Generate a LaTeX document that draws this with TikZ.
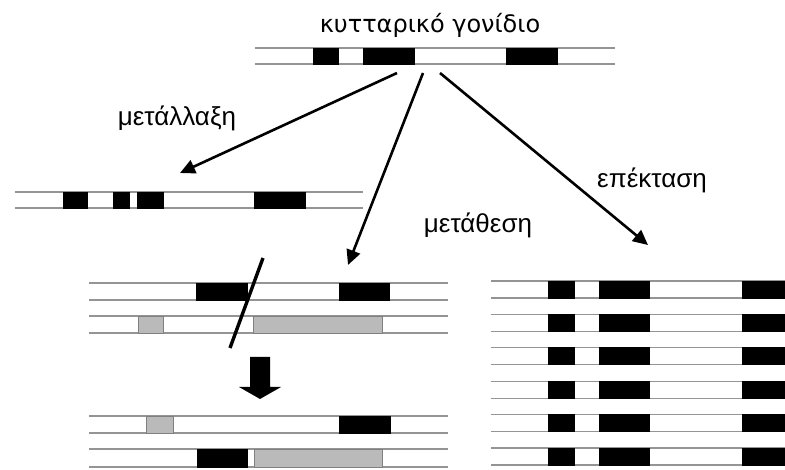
\documentclass[tikz,border=0pt]{standalone}
\usepackage{fontspec}
\setmainfont{DejaVu Sans}
\newfontfamily\labelfont{Liberation Sans}
\usetikzlibrary{arrows.meta}
% a double-stranded segment: x from #1 to #2, strands at y = #3 and #4
\newcommand\dnapair[4]{%
  \draw[strand] (#1,#3) -- (#2,#3);
  \draw[strand] (#1,#4) -- (#2,#4);}
% a block on a segment: x from #2 to #3, y from #4 to #5, style #1
\newcommand\block[5]{\path[#1] (#2,#4) rectangle (#3,#5);}
\begin{document}
\begin{tikzpicture}[x=1pt,y=-1pt,
  strand/.style={draw=black!42, line width=1.3pt},
  exon/.style={fill=black, draw=black, line width=0.6pt},
  shaded/.style={fill=black!27, draw=black!50, line width=0.8pt},
  branch/.style={line width=2.6pt, -{Triangle[length=15pt,width=14pt]}},
  caption/.style={font=\labelfont\fontsize{26}{30}\selectfont, inner sep=0pt},
  heading/.style={font=\fontsize{24}{28}\selectfont, inner sep=0pt},
]
\useasboundingbox (0,0) rectangle (785,470);
\fill[white] (0,0) rectangle (785,470);

% cellular gene
\node[heading] (title) at (430,25) {κυτταρικό γονίδιο};
\dnapair{255}{615}{48}{64}
\block{exon}{313}{338}{48}{64}
\block{exon}{363}{414}{48}{64}
\block{exon}{506}{557}{48}{64}

% mutation
\dnapair{15}{363}{192}{208}
\block{exon}{63}{87}{192}{208}
\block{exon}{113}{129}{192}{208}
\block{exon}{137}{163}{192}{208}
\block{exon}{254}{305}{192}{208}

% translocation: before
\dnapair{89}{448}{283}{300}
\block{exon}{196}{247}{283}{300}
\block{exon}{339}{389}{283}{300}
\dnapair{89}{448}{316}{333}
\block{shaded}{138}{163}{316}{333}
\block{shaded}{253}{382}{316}{333}
% break point
\coordinate (cutA) at (263,258);
\coordinate (cutB) at (230,348);
\draw[line width=3.4pt] (cutA) -- (cutB);
% result arrow
\fill (250,357) -- (270,357) -- (270,387) -- (281,387) -- (260,399)
      -- (239,387) -- (250,387) -- cycle;
% translocation: after
\dnapair{89}{448}{416}{433}
\block{shaded}{146}{173}{416}{433}
\block{exon}{339}{390}{416}{433}
\dnapair{89}{448}{449}{467}
\block{exon}{197}{247}{449}{467}
\block{shaded}{254}{382}{449}{467}

% amplification
\foreach \i in {0,...,5}{
  \pgfmathsetmacro\yt{281+33.4*\i}
  \pgfmathsetmacro\yb{\yt+17}
  \dnapair{491}{785}{\yt}{\yb}
  \block{exon}{548}{574}{\yt}{\yb}
  \block{exon}{599}{649}{\yt}{\yb}
  \block{exon}{742}{785}{\yt}{\yb}
}

% branches
\coordinate (srcL) at (397,73);
\coordinate (srcM) at (423,73);
\coordinate (srcR) at (440,73);
\coordinate (tipL) at (180,173);
\coordinate (tipM) at (348,265);
\coordinate (tipR) at (648,245);
\draw[branch] (srcL) -- (tipL);
\draw[branch] (srcM) -- (tipM);
\draw[branch] (srcR) -- (tipR);

\node[caption] (mut) at (177,118) {μετάλλαξη};
\node[caption] (trans) at (478,225) {μετάθεση};
\node[caption] (ampl) at (652,180) {επέκταση};
\end{tikzpicture}
\end{document}
